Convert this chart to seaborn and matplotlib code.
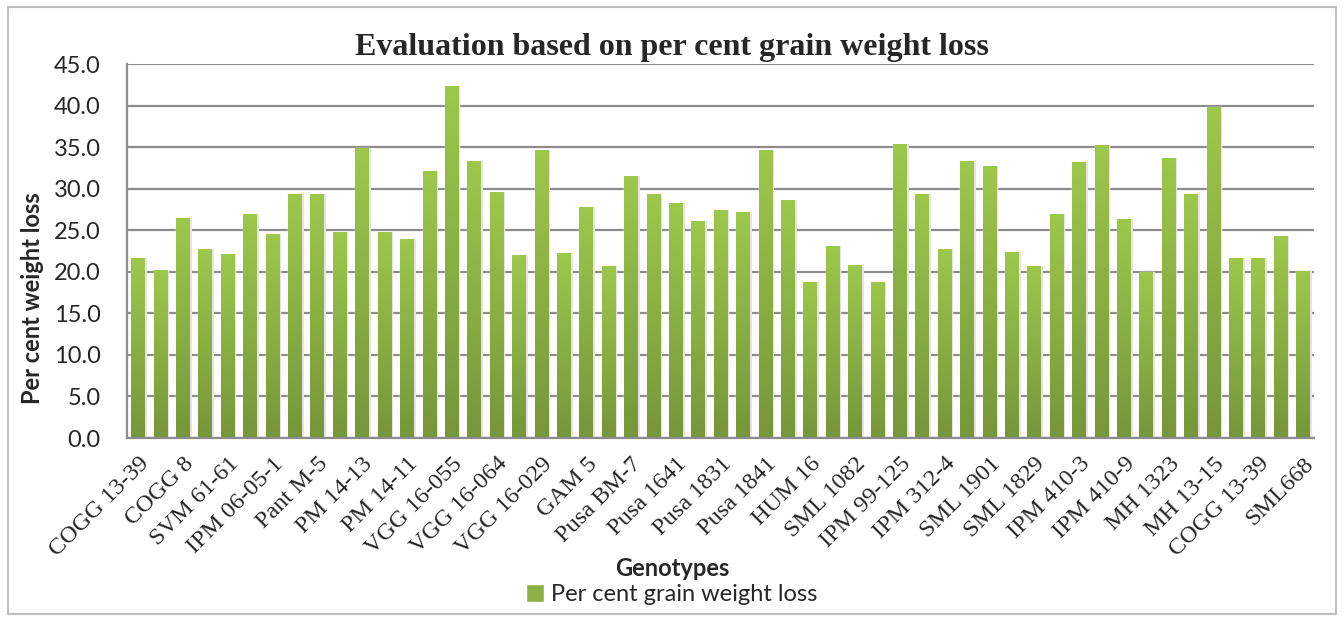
import numpy as np
import pandas as pd
import seaborn as sns
import matplotlib.pyplot as plt
from matplotlib.colors import LinearSegmentedColormap
from matplotlib.patches import Rectangle, Patch

# Genotype names shown on the axis (every other bar is labelled)
tick_labels = ["COGG 13-39", "COGG 8", "SVM 61-61", "IPM 06-05-1", "Pant M-5",
               "PM 14-13", "PM 14-11", "VGG 16-055", "VGG 16-064", "VGG 16-029",
               "GAM 5", "Pusa BM-7", "Pusa 1641", "Pusa 1831", "Pusa 1841",
               "HUM 16", "SML 1082", "IPM 99-125", "IPM 312-4", "SML 1901",
               "SML 1829", "IPM 410-3", "IPM 410-9", "MH 1323", "MH 13-15",
               "COGG 13-39", "SML668"]

# Per cent grain weight loss, one value per bar
loss = [21.6, 20.2, 26.5, 22.7, 22.1, 26.9, 24.5, 29.4, 29.3, 24.8,
        34.9, 24.8, 23.9, 32.1, 42.3, 33.3, 29.6, 22.0, 34.7, 22.2,
        27.8, 20.7, 31.5, 29.4, 28.3, 26.1, 27.4, 27.2, 34.7, 28.6,
        18.8, 23.1, 20.8, 18.8, 35.4, 29.4, 22.8, 33.3, 32.7, 22.4,
        20.7, 27.0, 33.2, 35.3, 26.4, 20.0, 33.7, 29.4, 39.8, 21.7,
        21.6, 24.3, 20.1]

df = pd.DataFrame({"pos": range(len(loss)), "loss": loss})

sns.set_style("white")
plt.rcParams["font.family"] = ["Lato", "DejaVu Sans"]

fig = plt.figure(figsize=(13.44, 6.19), dpi=100)
ax = fig.add_axes([0.0945, 0.2924, 0.8835, 0.6042])

sns.barplot(data=df, x="pos", y="loss", color="#8cb043", width=0.62, ax=ax)

# Excel style vertical gradient on each bar, with a faint shadow on the right
cmap = LinearSegmentedColormap.from_list("grn", ["#76963a", "#9dc84b"])
grad = np.linspace(0, 1, 256).reshape(-1, 1)
for p in list(ax.patches):
    x, w, h = p.get_x(), p.get_width(), p.get_height()
    sh = Rectangle((x + w, 0), w * 0.12, h, facecolor="#e4e4e4", edgecolor="none", zorder=1)
    ax.add_patch(sh)
    im = ax.imshow(grad, extent=[x, x + w, 0, h], origin="lower", aspect="auto",
                   cmap=cmap, zorder=2)
    im.set_clip_path(p)

ax.set_xlim(-0.5, len(loss) - 0.5)
ax.set_ylim(0, 45)
ax.set_yticks(np.arange(0, 46, 5))
ax.set_yticklabels([f"{v:.1f}" for v in np.arange(0, 46, 5)], fontsize=17)
ax.yaxis.grid(True, color="#8c8c8c", linewidth=1.6)
ax.set_axisbelow(True)

ax.set_xticks(range(0, len(loss), 2))
ax.set_xticklabels(tick_labels, rotation=45, ha="right", va="top", rotation_mode="anchor",
                   fontsize=17.5, family="Liberation Serif")
ax.tick_params(axis="x", length=0, pad=11)
ax.tick_params(axis="y", length=0, pad=19)

for s in ["top", "right"]:
    ax.spines[s].set_visible(False)
for s in ["left", "bottom"]:
    ax.spines[s].set_color("#8c8c8c")
    ax.spines[s].set_linewidth(1.6)

ax.set_xlabel("")
ax.set_ylabel("")
fig.text(0.024, 0.519, "Per cent weight loss", rotation=90, ha="center", va="center",
         fontsize=17, fontweight="bold")
fig.text(0.5, 0.924, "Evaluation based on per cent grain weight loss",
         ha="center", va="center", fontsize=23, fontweight="bold", family="Liberation Serif")
fig.text(0.5, 0.081, "Genotypes", ha="center", va="center", fontsize=17, fontweight="bold")

fig.legend(handles=[Patch(facecolor="#8cb043", label="Per cent grain weight loss")],
           loc="center", bbox_to_anchor=(0.5, 0.039), frameon=False, fontsize=17,
           handlelength=0.75, handleheight=0.75, handletextpad=0.3,
           borderpad=0, borderaxespad=0)

fig.patches.append(Rectangle((0.006, 0.008), 0.988, 0.98, transform=fig.transFigure,
                             fill=False, edgecolor="#bfbfbf", linewidth=1.5))

fig.savefig("out.png", dpi=100)
